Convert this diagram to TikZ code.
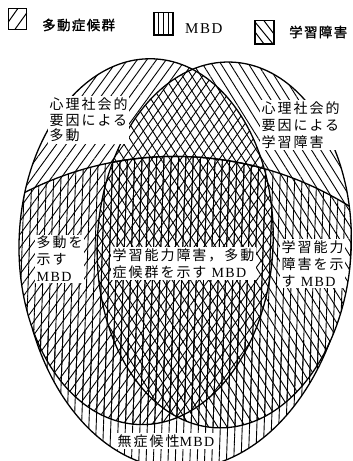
\documentclass[tikz,border=0pt]{standalone}
\usepackage{fontspec}
\setmainfont{Liberation Serif}
\newfontfamily\jp[LetterSpace=14]{Noto Sans CJK JP}
\newfontfamily\jpleg[LetterSpace=10,FakeBold=1.2]{Noto Sans CJK JP}
\newfontfamily\mbd[LetterSpace=10]{Liberation Serif}
\usetikzlibrary{patterns.meta}
\begin{document}
\begin{tikzpicture}[x=1pt,y=-1pt,
 outline/.style={line width=1.3pt},
 hatchL/.style={pattern={Lines[angle=54,distance=7.8pt,line width=0.9pt]}},
 hatchR/.style={pattern={Lines[angle=122,distance=7.8pt,line width=0.9pt]}},
 hatchM/.style={pattern={Lines[angle=88,distance=7.3pt,line width=0.9pt]}},
 lbl/.style={fill=white,inner sep=1.5pt,align=left,anchor=west,font=\fontsize{14}{17}\selectfont\jp},
 legtext/.style={inner sep=0pt,anchor=west,font=\fontsize{13.5}{16}\selectfont\jpleg},
 swatch/.style={line width=1.3pt},
 swline/.style={line width=1pt}]
\clip (0,0) rectangle (353,461);
\fill[white] (0,0) rectangle (353,461);
% ---------- diagram ----------
\begin{scope}[rotate around={-2.4:(185,245)}]
 \fill[hatchL] (146,243.3) ellipse [x radius=127pt, y radius=183pt];
 \fill[hatchR] (224.2,243.3) ellipse [x radius=127pt, y radius=183pt];
 \begin{scope}
  \clip (185,486.6) circle [radius=330pt];
  \fill[hatchM] (146,243.3) ellipse [x radius=127pt, y radius=183pt];
  \fill[hatchM] (224.2,243.3) ellipse [x radius=127pt, y radius=183pt];
 \end{scope}
 \begin{scope}
  \clip (-20,335) rectangle (390,500);
  \fill[hatchM] (185,233.6) ellipse [x radius=165pt, y radius=235.5pt];
  \draw[outline] (185,233.6) ellipse [x radius=165pt, y radius=235.5pt];
 \end{scope}
 \begin{scope}
  \clip (146,243.3) ellipse [x radius=127pt, y radius=183pt];
  \draw[outline] (185,486.6) circle [radius=330pt];
 \end{scope}
 \begin{scope}
  \clip (224.2,243.3) ellipse [x radius=127pt, y radius=183pt];
  \draw[outline] (185,486.6) circle [radius=330pt];
 \end{scope}
 \draw[outline] (146,243.3) ellipse [x radius=127pt, y radius=183pt];
 \draw[outline] (224.2,243.3) ellipse [x radius=127pt, y radius=183pt];
\end{scope}
% ---------- legend ----------
\draw[swatch] (8.3,8.3) rectangle (26.7,29.3);
\draw[swline] (8.3,22) -- (18,8.3) (15,29.3) -- (26.7,13);
\draw[swatch] (154,12.7) rectangle (173,35);
\draw[swline] (158.75,12.7) -- (158.75,35) (163.5,12.7) -- (163.5,35) (168.25,12.7) -- (168.25,35);
\draw[swatch] (255,20.7) rectangle (274,44);
\draw[swline] (255,22) -- (273,44) (255,32) -- (264,44) (264,20.7) -- (274,34);
\node[legtext] (t1) at (42,25) {多動症候群};
\node[legtext, font=\fontsize{15}{17}\selectfont\mbd] (t2) at (185,28.5) {MBD};
\node[legtext] (t3) at (289,32) {学習障害};
% ---------- labels ----------
\node[lbl, font=\fontsize{14}{15.5}\selectfont\jp] (tl) at (48,120) {心理社会的\\要因による\\多動};
\node[lbl] (tr) at (260,125) {心理社会的\\要因による\\学習障害};
\node[lbl] (ml) at (35,259) {多動を\\示す\\{\mbd MBD}};
\node[lbl] (mc) at (111,263.5) {学習能力障害，多動\\症候群を示す {\mbd MBD}};
\node[lbl] (mr) at (280,263.5) {学習能力\\障害を示\\す {\mbd MBD}};
\node[lbl] (bt) at (116,441) {無症候性{\mbd MBD}};
\end{tikzpicture}
\end{document}
